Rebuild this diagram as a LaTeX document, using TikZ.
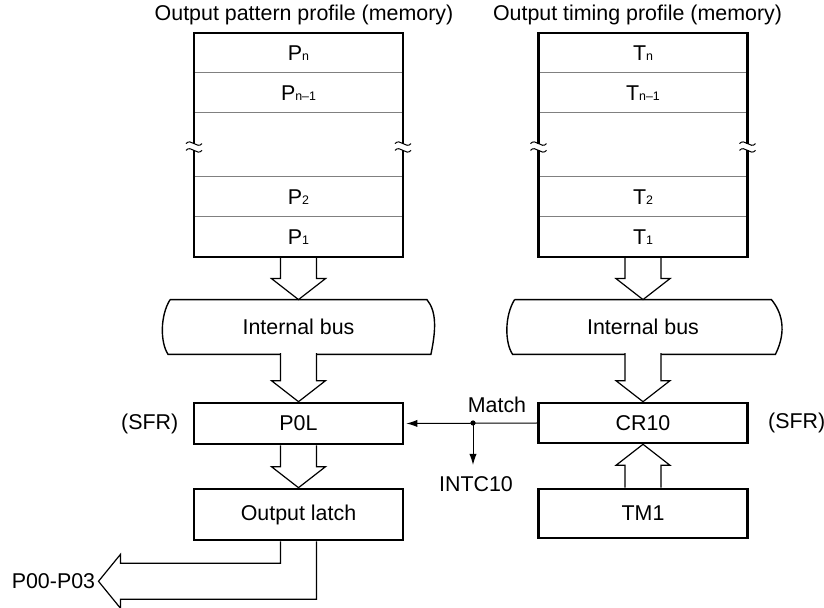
\documentclass[tikz,border=0pt]{standalone}
\usepackage{fontspec}
\setmainfont{Liberation Sans}
\usetikzlibrary{positioning,calc,arrows.meta,backgrounds}

\newcommand\idx[1]{{\fontsize{6.2}{7}\selectfont #1}}
\newcommand\fatarrow[3][10.5pt]{%
 \draw[hollow] let \p1=(#2), \p2=(#3) in
  (\x1-9pt,\y1) -- (\x1-9pt,\y2+#1) -- (\x1-13.5pt,\y2+#1) -- (\x1,\y2)
  -- (\x1+13.5pt,\y2+#1) -- (\x1+9pt,\y2+#1) -- (\x1+9pt,\y1);}
\newcommand\busline[2][2.5pt]{%
 \draw[busedge] ([xshift=3pt]#2.north west) -- ([xshift=-3pt]#2.north east)
  .. controls +(5pt,-6pt) and +(#1,12pt) .. ([xshift=-1pt]#2.south east)
  -- ([xshift=2pt]#2.south west)
  .. controls +(-4pt,6pt) and +(-5pt,-8pt) .. ([xshift=3pt]#2.north west);}
\newcommand\brk[1]{%
 \fill[white] ([shift={(-1.5pt,0.6pt)}]#1) rectangle ([shift={(1.5pt,-2.6pt)}]#1);
 \foreach \d in {0.7pt,-2.7pt}
  {\draw[line width=0.5pt] ([shift={(-4pt,\d)}]#1) .. controls +(2.5pt,3pt) and +(-2.5pt,-3pt) .. ([shift={(4pt,\d)}]#1);}}

\begin{document}
\begin{tikzpicture}[x=0.5pt, y=-0.5pt,
 every node/.style={font=\fontsize{10.7}{12}\selectfont, inner sep=0},
 row/.style={minimum width=104.5pt, minimum height=20pt, outer sep=0},
 box/.style={draw, line width=1.3pt, minimum width=104.5pt},
 bus/.style={minimum width=134pt, minimum height=27pt},
 frame/.style={line width=1.3pt},
 sep/.style={line width=0.5pt, gray},
 busedge/.style={line width=0.7pt},
 hollow/.style={line width=0.6pt, fill=white, line join=miter},
 sig/.style={line width=0.5pt, -{Latex[length=5.5pt,width=3.6pt]}}]
 \useasboundingbox (0,0) rectangle (824,608);

 \node (ptitle) at (304,15) {Output pattern profile (memory)};
 \node (ttitle) at (637.5,15) {Output timing profile (memory)};

 \node[row] (pn) at (298.5,53) {P\idx{n}};
 \node[row, below=0pt of pn] (pn1) {P\idx{n--1}};
 \node[row, minimum height=32pt, below=0pt of pn1] (pgap) {};
 \node[row, below=0pt of pgap] (p2) {P\idx{2}};
 \node[row, below=0pt of p2] (p1) {P\idx{1}};

 \node[row] (tn) at (643,53) {T\idx{n}};
 \node[row, below=0pt of tn] (tn1) {T\idx{n--1}};
 \node[row, minimum height=32pt, below=0pt of tn1] (tgap) {};
 \node[row, below=0pt of tgap] (t2) {T\idx{2}};
 \node[row, below=0pt of t2] (t1) {T\idx{1}};

 \node[bus] (lbus) at (298.5,327) {Internal bus};
 \node[bus] (rbus) at (643,327) {Internal bus};

 \node[box, minimum height=20.5pt] (p0l) at (298.5,423.5) {P0L};
 \node[box, minimum height=25.5pt] (latch) at (298.5,514.5) {Output latch};
 \node[box, minimum height=20pt] (cr) at (643,423) {CR10};
 \node[box, minimum height=24.5pt] (tm) at (643,513.5) {TM1};

 \node[left=7pt of p0l] (sfrl) {(SFR)};
 \node[right=9.5pt of cr] (sfrr) {(SFR)};
 \node (match) at (497,405) {Match};
 \node (intc) at (476,484) {INTC10};

 \begin{scope}[on background layer]
  \busline{lbus}
  \busline[6pt]{rbus}
  \fatarrow{p1.south}{lbus.north}
  \fatarrow{[yshift=0.6pt]lbus.south}{p0l.north}
  \fatarrow{p0l.south}{latch.north}
  \fatarrow{t1.south}{rbus.north}
  \fatarrow{[yshift=0.6pt]rbus.south}{cr.north}
  \fatarrow[-10.5pt]{tm.north}{cr.south}
  \draw[hollow] ([xshift=-9pt]latch.south) -- ++(0,-11pt) -- ++(-80pt,0) -- ++(0,4.5pt)
   -- ++(-11pt,-13.5pt) coordinate (otip) -- ++(11pt,-13.5pt) -- ++(0,4.5pt) -- ++(98pt,0) -- ++(0,29pt);
 \end{scope}
 \node[left=1.5pt of otip] (pins) {P00-P03};

 \foreach \r in {pn,pn1,pgap,p2,tn,tn1,tgap,t2}
  \draw[sep] (\r.south west) -- (\r.south east);
 \draw[frame] (pn.north west) rectangle (p1.south east);
 \draw[frame] (tn.north west) rectangle (t1.south east);
 \foreach \c in {pgap.west,pgap.east,tgap.west,tgap.east}
  {\brk{\c}}

 \coordinate (mdot) at (473,423);
 \draw[sig, shorten >=1pt] (cr.west) -- (p0l.east);
 \fill (mdot) circle (1.3pt);
 \draw[sig] (mdot) -- ++(0,-21pt);
\end{tikzpicture}
\end{document}
